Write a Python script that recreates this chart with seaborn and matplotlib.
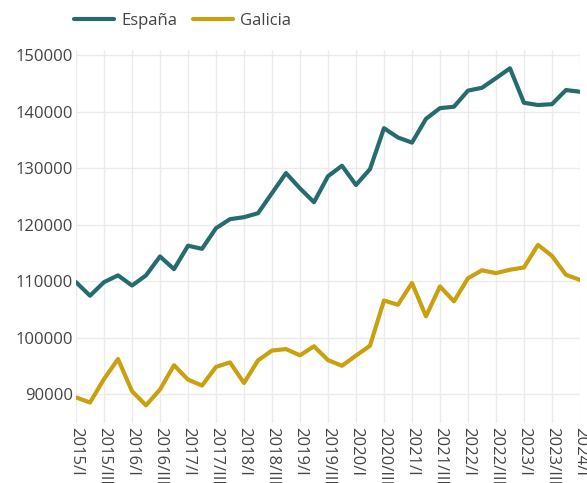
import pandas as pd
import seaborn as sns
import matplotlib.pyplot as plt

# --- data ---
quarters = [
    "2015/I", "2015/II", "2015/III", "2015/IV",
    "2016/I", "2016/II", "2016/III", "2016/IV",
    "2017/I", "2017/II", "2017/III", "2017/IV",
    "2018/I", "2018/II", "2018/III", "2018/IV",
    "2019/I", "2019/II", "2019/III", "2019/IV",
    "2020/I", "2020/II", "2020/III", "2020/IV",
    "2021/I", "2021/II", "2021/III", "2021/IV",
    "2022/I", "2022/II", "2022/III", "2022/IV",
    "2023/I", "2023/II", "2023/III", "2023/IV",
    "2024/I",
]
espana = [
    109800, 107400, 109800, 111000, 109200, 111000, 114350, 112100,
    116250, 115700, 119350, 120950, 121300, 122000, 125550, 129100,
    126400, 123950, 128550, 130400, 127000, 129800, 137050, 135400,
    134500, 138700, 140600, 140850, 143700, 144200, 145900, 147650,
    141550, 141150, 141300, 143800, 143500,
]
galicia = [
    89400, 88500, 92650, 96200, 90500, 88000, 90800, 95100,
    92550, 91500, 94800, 95600, 91950, 95950, 97700, 97950,
    96850, 98450, 96000, 95000, 96800, 98550, 106550, 105800,
    109650, 103750, 109050, 106400, 110500, 111900, 111400, 112000,
    112400, 116400, 114450, 111100, 110200,
]
series_names = ["España", "Galicia"]
colors = ["#266b6e", "#c9a00e"]

df = pd.DataFrame({
    "pos": list(range(len(quarters))) * 2,
    "valor": espana + galicia,
    "serie": [series_names[0]] * len(espana) + [series_names[1]] * len(galicia),
})

# --- style ---
sns.set_theme(style="white")
plt.rcParams["font.family"] = ["Open Sans", "DejaVu Sans"]
text_col = "#444444"

fig = plt.figure(figsize=(5.87, 4.83), dpi=100)
ax = fig.add_axes([0.1295, 0.1242, 0.8585, 0.7723])

sns.lineplot(data=df, x="pos", y="valor", hue="serie", palette=colors,
             linewidth=3, ax=ax, legend=False)

ax.set_xlim(0, len(quarters) - 1)
ax.set_ylim(84870, 150890)
ax.set_yticks([90000, 100000, 110000, 120000, 130000, 140000, 150000])
ax.set_yticklabels([str(v) for v in ax.get_yticks().astype(int)])
ax.set_xticks(range(0, len(quarters), 2))
ax.set_xticklabels(quarters[::2], rotation=270, va="top", ha="center")

ax.grid(True, color="#ebebeb", linewidth=1)
ax.set_axisbelow(True)
for s in ax.spines.values():
    s.set_visible(False)
ax.tick_params(axis="both", length=0, labelsize=12, colors=text_col)
ax.tick_params(axis="x", pad=3)
ax.tick_params(axis="y", pad=2)
ax.set_xlabel("")
ax.set_ylabel("")

handles = [plt.Line2D([], [], color=c, linewidth=3) for c in colors]
leg = fig.legend(handles, series_names, loc="center left", bbox_to_anchor=(0.115, 0.956),
                 ncol=2, frameon=False, fontsize=12, handlelength=2.4,
                 handletextpad=0.45, columnspacing=0.9, borderaxespad=0)
for t in leg.get_texts():
    t.set_color(text_col)

fig.savefig("out.png", dpi=100)
